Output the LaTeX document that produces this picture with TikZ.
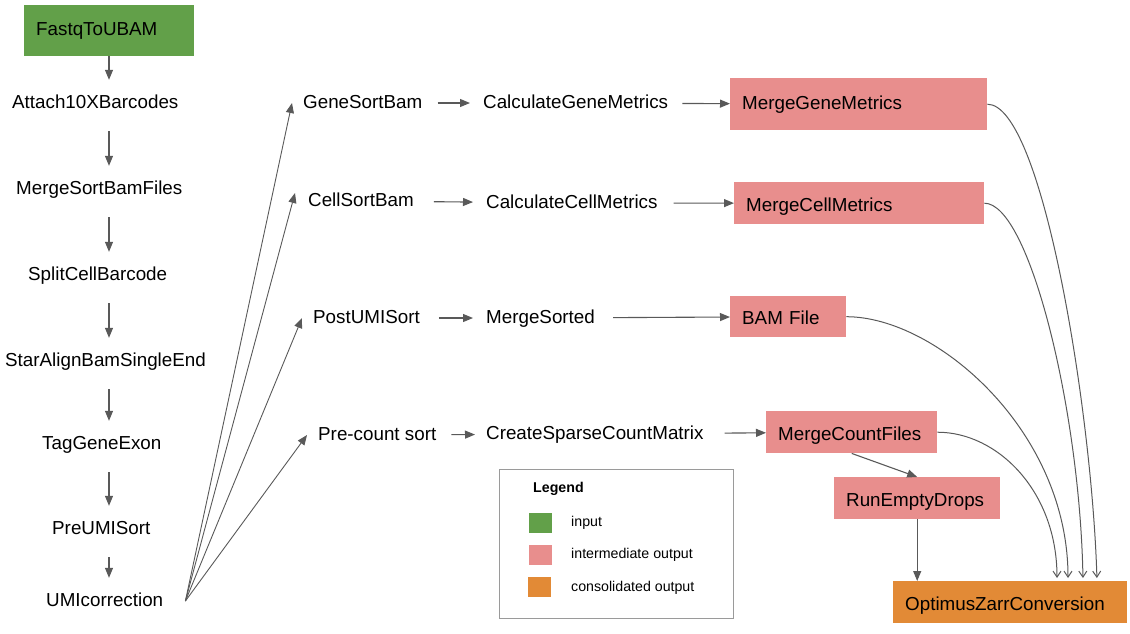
\documentclass[tikz,border=0pt]{standalone}
\usepackage{fontspec}
\setmainfont{Liberation Sans}
\usetikzlibrary{arrows.meta}
\definecolor{inGreen}{HTML}{62A049}
\definecolor{midPink}{HTML}{E88E8D}
\definecolor{outOrange}{HTML}{E28A36}
\definecolor{lineGray}{HTML}{595959}
\definecolor{frameGray}{HTML}{9A9A9A}
\newcommand\taskfont{\fontsize{18.8}{22}\selectfont}
\newcommand\keyfont{\fontsize{14.2}{17}\selectfont}
\tikzset{
  task_/.style   = {anchor=west, inner sep=0pt, text height=14pt, text depth=4pt, font=\taskfont},
  box_/.style    = {anchor=north west, inner xsep=12pt, inner ysep=0pt, align=left,
                    text height=19pt, text depth=3pt, font=\taskfont},
  swatch_/.style = {anchor=north west, minimum width=23pt, minimum height=20pt, inner sep=0pt},
  key_/.style    = {anchor=west, inner sep=0pt, text height=10pt, text depth=3pt, font=\keyfont}
}
\begin{document}
\begin{tikzpicture}
  [
    x       = 1pt,
    y       = -1pt,
    arr_/.style   = {draw=lineGray, line width=1.1pt, -{Triangle[length=10pt,width=8pt]}},
    curve_/.style = {draw=lineGray, line width=1pt, shorten >=3pt,
                     -{Straight Barb[length=6pt,width=8pt]}}
  ]
  \useasboundingbox (0,0) rectangle (1130,633);

  \node [box_, fill=inGreen, text width=146pt, minimum height=51pt,
         text height=14pt, text depth=4pt] (fastq) at (24,5) {FastqToUBAM};
  \node [task_] (attach) at (12,103)  {Attach10XBarcodes};
  \node [task_] (msbf)   at (16,189)  {MergeSortBamFiles};
  \node [task_] (scb)    at (28,275)  {SplitCellBarcode};
  \node [task_] (star)   at (5,361)   {StarAlignBamSingleEnd};
  \node [task_] (tag)    at (42,444)  {TagGeneExon};
  \node [task_] (pre)    at (52,529)  {PreUMISort};
  \node [task_] (umi)    at (46,601)  {UMIcorrection};
  \coordinate (col) at (109,0);

  \node [task_] (gsb)  at (303,103) {GeneSortBam};
  \node [task_] (csb)  at (308,201) {CellSortBam};
  \node [task_] (pus)  at (313,318) {PostUMISort};
  \node [task_] (pcs)  at (318,435) {Pre-count sort};

  \node [task_] (cgm)  at (483,103) {CalculateGeneMetrics};
  \node [task_] (ccm)  at (486,203) {CalculateCellMetrics};
  \node [task_] (ms)   at (486,318) {MergeSorted};
  \node [task_] (cscm) at (486,434) {CreateSparseCountMatrix};

  \node [box_, fill=midPink, text width=233pt, minimum height=52pt,
         text height=14pt, text depth=4pt] (mgm) at (730,78)  {MergeGeneMetrics};
  \node [box_, fill=midPink, text width=226pt, minimum height=42pt] (mcm) at (734,182) {MergeCellMetrics};
  \node [box_, fill=midPink, text width=92pt,  minimum height=41pt] (bam) at (730,296) {BAM File};
  \node [box_, fill=midPink, text width=147pt, minimum height=42pt] (mcf) at (766,411) {MergeCountFiles};
  \node [box_, fill=midPink, text width=142pt, minimum height=42pt] (red) at (834,477) {RunEmptyDrops};
  \node [box_, fill=outOrange, text width=210pt, minimum height=42pt] (ozc) at (893,581) {OptimusZarrConversion};

  \draw [arr_, shorten >=14pt] (fastq.south -| col) -- (attach.north -| col);
  \draw [arr_, shorten <=19pt, shorten >=14pt] (attach.south -| col) -- (msbf.north -| col);
  \draw [arr_, shorten <=19pt, shorten >=14pt] (msbf.south -| col) -- (scb.north -| col);
  \draw [arr_, shorten <=19pt, shorten >=14pt] (scb.south -| col) -- (star.north -| col);
  \draw [arr_, shorten <=19pt, shorten >=14pt] (star.south -| col) -- (tag.north -| col);
  \draw [arr_, shorten <=19pt, shorten >=14pt] (tag.south -| col) -- (pre.north -| col);
  \draw [arr_, shorten <=19pt, shorten >=14pt] (pre.south -| col) -- (umi.north -| col);

  \coordinate (fan) at ([xshift=22pt]umi.east);
  \draw [arr_, line width=0.9pt] (fan) -- ([xshift=-11pt]gsb.west);
  \draw [arr_, line width=0.9pt] (fan) -- ([xshift=-13pt,yshift=8pt]csb.west);
  \draw [arr_, line width=0.9pt] (fan) -- ([xshift=-11pt]pus.west);
  \draw [arr_, line width=0.9pt] (fan) -- ([xshift=-11pt]pcs.west);

  \draw [arr_, shorten <=15pt, shorten >=13pt] (gsb) -- (cgm);
  \draw [arr_, shorten <=20pt, shorten >=13pt] (csb) -- (ccm);
  \draw [arr_, shorten <=19pt, shorten >=13pt] (pus) -- (ms);
  \draw [arr_, shorten <=15pt, shorten >=11pt] (pcs) -- (cscm);
  \draw [arr_, shorten <=14pt] (cgm) -- (mgm);
  \draw [arr_, shorten <=16pt] (ccm) -- (mcm);
  \draw [arr_, shorten <=18pt] (ms) -- (bam);
  \draw [arr_, shorten <=21pt] (cscm) -- (mcf);

  \draw [arr_] (mcf.south) -- (red.north);
  \draw [arr_] (red.south) -- (red.south |- ozc.north);

  \draw [curve_] (mgm.east) .. controls +(55,0) and +(-5,-170) .. ([xshift=204pt]ozc.north west);
  \draw [curve_] (mcm.east) .. controls +(45,0) and +(-3,-170) .. ([xshift=190pt]ozc.north west);
  \draw [curve_] (bam.east) .. controls +(90,0) and +(0,-150) .. ([xshift=175pt]ozc.north west);
  \draw [curve_] (mcf.east) .. controls +(60,0) and +(0,-90) .. ([xshift=164pt]ozc.north west);

  \node [draw=frameGray, line width=1.2pt, anchor=north west, inner sep=0pt,
         minimum width=234pt, minimum height=149pt] (legend) at (499,469) {};
  \node [key_, font=\keyfont\bfseries] (legendTitle) at (533,489) {Legend};
  \node [swatch_, fill=inGreen]   (swIn)  at (529,513) {};
  \node [swatch_, fill=midPink]   (swMid) at (529,545) {};
  \node [swatch_, fill=outOrange] (swOut) at (528,577) {};
  \node [key_] (keyIn)  at (571,523) {input};
  \node [key_] (keyMid) at (571,555) {intermediate output};
  \node [key_] (keyOut) at (571,588) {consolidated output};
\end{tikzpicture}
\end{document}
